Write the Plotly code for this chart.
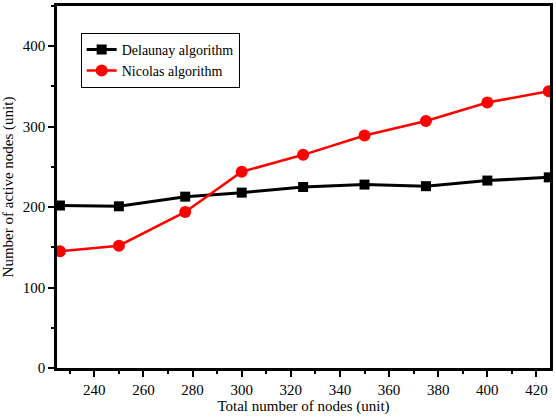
import plotly.graph_objects as go

nodes = [226, 250, 277, 300, 325, 350, 375, 400, 425]
delaunay = [202, 201, 213, 218, 225, 228, 226, 233, 237]
nicolas = [145, 152, 194, 244, 265, 289, 307, 330, 344]

FONT = "Liberation Serif"

fig = go.Figure()
fig.add_trace(go.Scatter(x=nodes, y=delaunay, mode="lines+markers", name="Delaunay algorithm",
                         line=dict(color="black", width=3),
                         marker=dict(symbol="square", size=10, color="black")))
fig.add_trace(go.Scatter(x=nodes, y=nicolas, mode="lines+markers", name="Nicolas algorithm",
                         line=dict(color="#ff0000", width=2.5),
                         marker=dict(symbol="circle", size=12, color="#ff0000")))

fig.update_layout(
    width=556, height=418,
    margin=dict(l=57, r=5, t=3, b=50),
    paper_bgcolor="white", plot_bgcolor="white",
    font=dict(family=FONT, size=14, color="black"),
    showlegend=True,
    legend=dict(x=0.048, y=0.926, xanchor="left", yanchor="top",
                bgcolor="white", bordercolor="black", borderwidth=1,
                font=dict(family=FONT, size=14), itemwidth=30,
                tracegroupgap=0),
    xaxis=dict(range=[224.8, 425.5], tickvals=[240, 260, 280, 300, 320, 340, 360, 380, 400, 420],
               ticks="outside", ticklen=6, tickwidth=2, tickcolor="black",
               minor=dict(dtick=10, tick0=230, ticks="outside", ticklen=3, tickwidth=2, tickcolor="black"),
               showline=True, linecolor="black", linewidth=2.5, mirror=True,
               showgrid=False, zeroline=False,
               title=dict(text="Total number of nodes (unit)", standoff=0,
                          font=dict(family=FONT, size=15)),
               tickfont=dict(family=FONT, size=15)),
    yaxis=dict(range=[0, 450], tickvals=[0, 100, 200, 300, 400],
               ticks="outside", ticklen=6, tickwidth=2, tickcolor="black",
               minor=dict(dtick=50, tick0=0, ticks="outside", ticklen=3, tickwidth=2, tickcolor="black"),
               showline=True, linecolor="black", linewidth=2.5, mirror=True,
               showgrid=False, zeroline=False,
               title=dict(text="Number of active nodes (unit)", standoff=8,
                          font=dict(family=FONT, size=15)),
               tickfont=dict(family=FONT, size=15)),
)

fig.write_html("out.html")
